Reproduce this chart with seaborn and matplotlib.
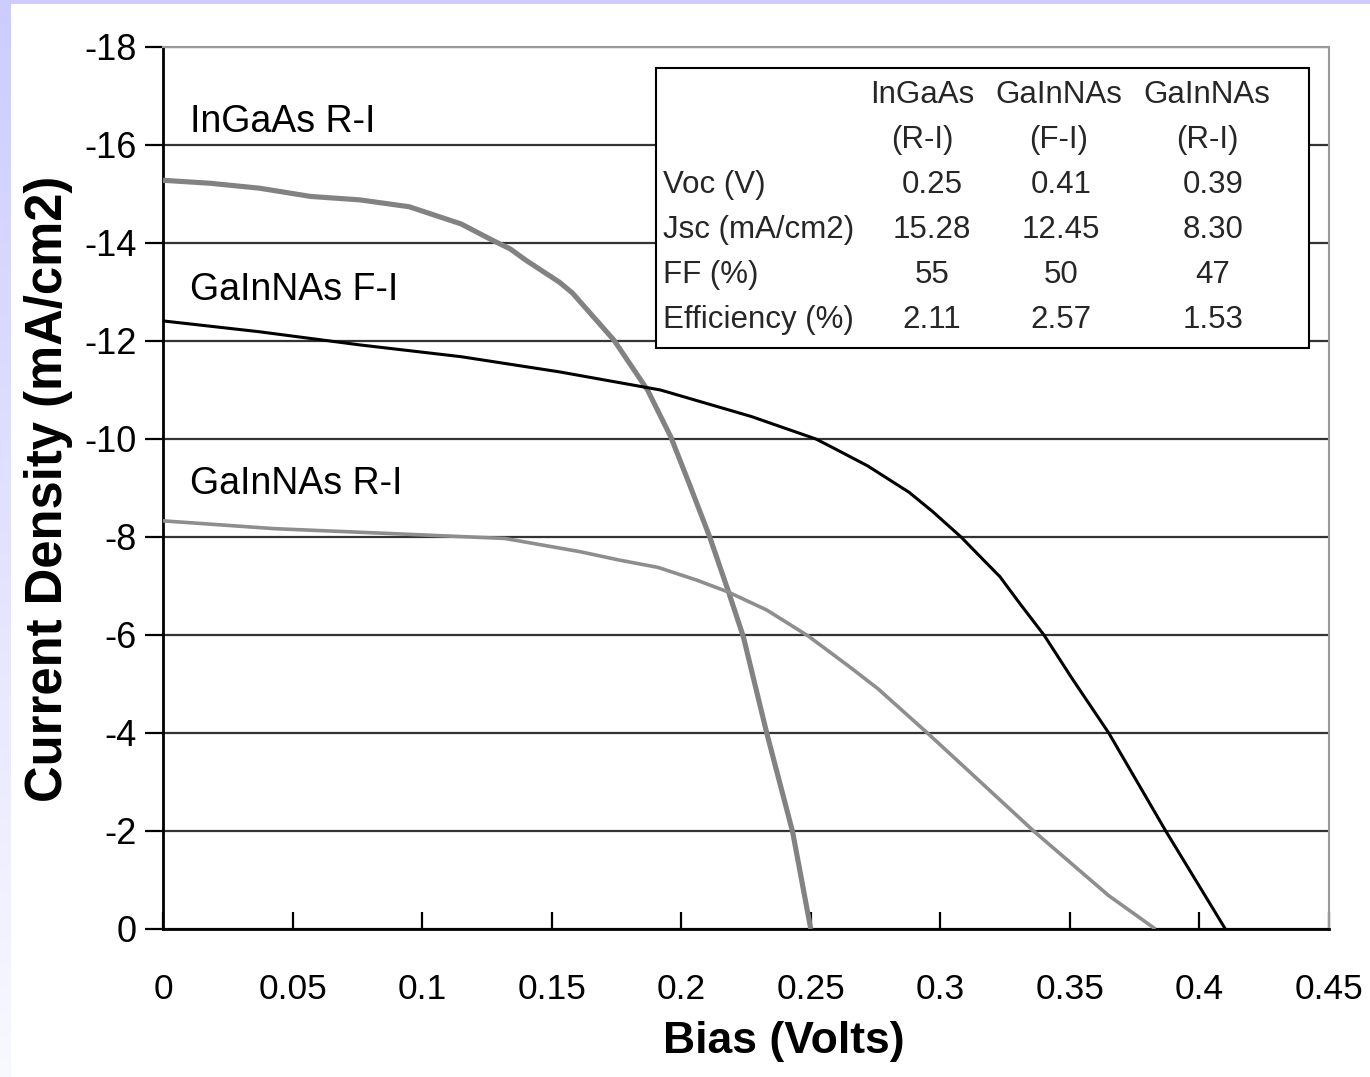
import numpy as np
import pandas as pd
import matplotlib
matplotlib.use("Agg")
import matplotlib.pyplot as plt
import seaborn as sns
from matplotlib.patches import Rectangle

# ---------------- data ----------------
series_names = ["InGaAs R-I", "GaInNAs F-I", "GaInNAs R-I"]

ingaas_ri_v = [0, 0.018, 0.037, 0.057, 0.076, 0.095, 0.115, 0.127, 0.134, 0.140, 0.153,
               0.158, 0.166, 0.174, 0.187, 0.196, 0.203, 0.211, 0.218, 0.224, 0.233,
               0.243, 0.250]
ingaas_ri_j = [-15.28, -15.22, -15.12, -14.95, -14.88, -14.74, -14.39, -14.06, -13.88, -13.65, -13.2,
               -12.98, -12.5, -12.02, -11.0, -10.04, -9.1, -8.0, -6.92, -5.96, -4.0,
               -1.98, 0]

gainnas_fi_v = [0, 0.037, 0.076, 0.115, 0.153, 0.192, 0.227, 0.252, 0.259, 0.272, 0.288,
                0.297, 0.308, 0.315, 0.323, 0.331, 0.340, 0.351, 0.365, 0.387, 0.410]
gainnas_fi_j = [-12.41, -12.19, -11.92, -11.68, -11.37, -11.0, -10.46, -10.0, -9.81, -9.45, -8.91,
                -8.52, -8.0, -7.62, -7.19, -6.62, -6.0, -5.1, -4.0, -2.0, 0]

gainnas_ri_v = [0, 0.043, 0.088, 0.132, 0.161, 0.176, 0.191, 0.206, 0.218, 0.233,
                0.249, 0.265, 0.276, 0.295, 0.310, 0.336, 0.365, 0.383]
gainnas_ri_j = [-8.33, -8.17, -8.07, -7.97, -7.70, -7.53, -7.38, -7.12, -6.88, -6.51,
                -5.98, -5.35, -4.9, -4.0, -3.27, -2.0, -0.68, 0]

x_ticks = [0, 0.05, 0.1, 0.15, 0.2, 0.25, 0.3, 0.35, 0.4, 0.45]
x_tick_labels = ["0", "0.05", "0.1", "0.15", "0.2", "0.25", "0.3", "0.35", "0.4", "0.45"]
y_ticks = [0, -2, -4, -6, -8, -10, -12, -14, -16, -18]
y_tick_labels = ["0", "-2", "-4", "-6", "-8", "-10", "-12", "-14", "-16", "-18"]

x_label = "Bias (Volts)"
y_label = "Current Density (mA/cm2)"

table_head_1 = ["InGaAs", "GaInNAs", "GaInNAs"]
table_head_2 = ["(R-I)", "(F-I)", "(R-I)"]
table_rows = ["Voc (V)", "Jsc (mA/cm2)", "FF (%)", "Efficiency (%)"]
table_values = [["0.25", "0.41", "0.39"],
                ["15.28", "12.45", "8.30"],
                ["55", "50", "47"],
                ["2.11", "2.57", "1.53"]]

# ---------------- style ----------------
sns.set_style("white")
plt.rcParams["font.family"] = ["Liberation Sans", "DejaVu Sans"]
plt.rcParams["axes.unicode_minus"] = False

W, H = 1370, 1077
fig = plt.figure(figsize=(W / 100, H / 100), dpi=100)
fig.patch.set_facecolor("white")

# background decoration (lavender strips at left and top)
bg = fig.add_axes([0, 0, 1, 1], zorder=-10)
img = np.ones((H, W, 3))
top_c = np.array([0.80, 0.80, 1.0])
bot_c = np.array([0.975, 0.975, 1.0])
t = np.linspace(0, 1, H)[:, None]
grad = top_c[None, :] * (1 - t) + bot_c[None, :] * t
img[:, :11, :] = grad[:, None, :]
img[:4, :, :] = top_c
bg.imshow(img, extent=[0, W, H, 0], aspect="auto")
bg.set_xlim(0, W)
bg.set_ylim(H, 0)
bg.axis("off")

ax = fig.add_axes([163 / W, 1 - 929 / H, 1166 / W, 882 / H])
ax.set_facecolor("white")

df = pd.concat([
    pd.DataFrame({"V": ingaas_ri_v, "J": ingaas_ri_j, "series": series_names[0]}),
    pd.DataFrame({"V": gainnas_fi_v, "J": gainnas_fi_j, "series": series_names[1]}),
    pd.DataFrame({"V": gainnas_ri_v, "J": gainnas_ri_j, "series": series_names[2]}),
])

styles = {
    series_names[0]: dict(color="#828282", lw=3.7),
    series_names[1]: dict(color="#000000", lw=2.2),
    series_names[2]: dict(color="#8e8e8e", lw=2.6),
}
for name in series_names:
    sub = df[df["series"] == name]
    sns.lineplot(data=sub, x="V", y="J", ax=ax, color=styles[name]["color"],
                 linewidth=styles[name]["lw"], sort=False, estimator=None,
                 legend=False, zorder=3)
for ln in ax.get_lines():
    ln.set_solid_joinstyle("round")
    ln.set_solid_capstyle("butt")

ax.set_xlim(0, 0.45)
ax.set_ylim(0, -18)
ax.set_xticks(x_ticks)
ax.set_xticklabels(x_tick_labels)
ax.set_yticks(y_ticks)
ax.set_yticklabels(y_tick_labels)

ax.set_axisbelow(True)
ax.yaxis.grid(True, color="#333333", linewidth=1.6)
ax.xaxis.grid(False)

for s in ["left", "bottom"]:
    ax.spines[s].set_color("black")
    ax.spines[s].set_linewidth(2.0)
for s in ["top", "right"]:
    ax.spines[s].set_color("#9a9a9a")
    ax.spines[s].set_linewidth(1.5)

ax.tick_params(axis="x", bottom=True, direction="in", length=12, width=1.6,
               color="black", pad=32, labelsize=25.5, labelcolor="black")
ax.tick_params(axis="y", left=True, direction="out", length=13, width=1.6,
               color="black", pad=6, labelsize=26, labelcolor="black")

ax.set_xlabel(x_label, fontsize=32, fontweight="bold", color="black")
ax.set_ylabel(y_label, fontsize=36.5, fontweight="bold", color="black")
ax.xaxis.label.set_va("center")
ax.yaxis.label.set_va("center")
ax.xaxis.set_label_coords((784 - 163) / 1166, (929 - 1042) / 882)
ax.yaxis.set_label_coords((49 - 163) / 1166, (929 - 489) / 882)

# curve annotations
ann_pos = {series_names[0]: (0.0104, -16.27),
           series_names[1]: (0.0104, -12.84),
           series_names[2]: (0.0104, -8.88)}
for name in series_names:
    x0, y0 = ann_pos[name]
    ax.text(x0, y0, name, fontsize=27, ha="left", va="baseline", color="black", zorder=4)

# table box
def fx(px):
    return (px - 163) / 1166

def fy(py):
    return (929 - py) / 882

box = Rectangle((fx(656), fy(348)), fx(1309) - fx(656), fy(68) - fy(348),
                transform=ax.transAxes, facecolor="white", edgecolor="black",
                linewidth=1.5, zorder=2.5)
ax.add_patch(box)

head_x = [fx(922), fx(1059), fx(1207)]
val_x = [fx(932), fx(1061), fx(1213)]
row_base = [fy(103), fy(148), fy(193), fy(238), fy(283), fy(328)]
tfs = 22.5
for i in range(3):
    ax.text(head_x[i], row_base[0], table_head_1[i], transform=ax.transAxes,
            fontsize=tfs, ha="center", va="baseline", zorder=4)
    ax.text(head_x[i], row_base[1], table_head_2[i], transform=ax.transAxes,
            fontsize=tfs, ha="center", va="baseline", zorder=4)
for r, lab in enumerate(table_rows):
    ax.text(fx(663), row_base[r + 2], lab, transform=ax.transAxes,
            fontsize=tfs, ha="left", va="baseline", zorder=4)
    for i in range(3):
        ax.text(val_x[i], row_base[r + 2], table_values[r][i], transform=ax.transAxes,
                fontsize=tfs, ha="center", va="baseline", zorder=4)

fig.savefig("out.png", dpi=100, facecolor=fig.get_facecolor())
